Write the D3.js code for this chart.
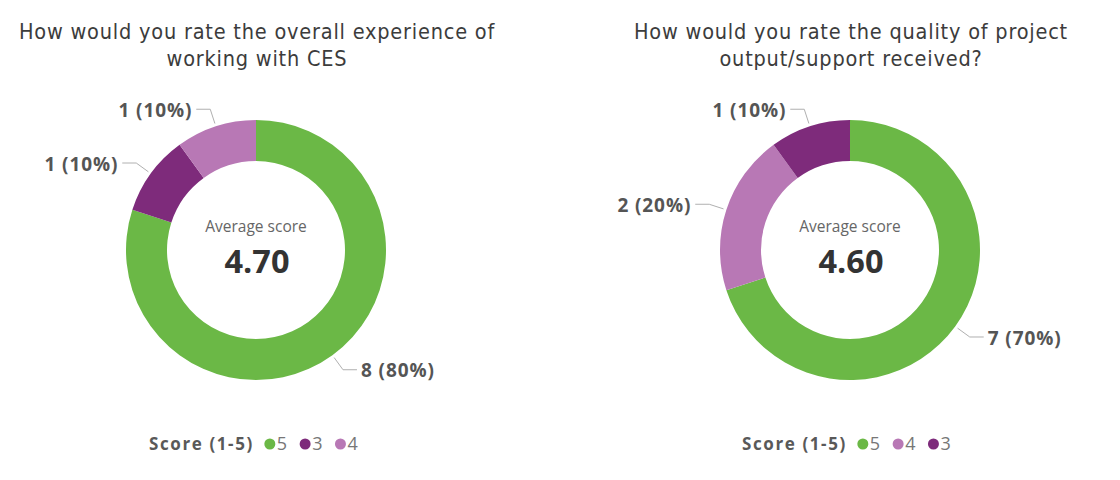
<!DOCTYPE html>
<html>
<head>
<meta charset="utf-8">
<script src="https://cdn.jsdelivr.net/npm/d3@7"></script>
<style>
  html, body { margin: 0; padding: 0; background: #ffffff; }
  svg { display: block; }
</style>
</head>
<body>
<svg id="chart" width="1120" height="480"></svg>
<script>
// ---- data ----
const chartTitles = [
  ["How would you rate the overall experience of", "working with CES"],
  ["How would you rate the quality of project", "output/support received?"]
];
const leftScores = ["5", "3", "4"];
const leftCounts = [8, 1, 1];
const rightScores = ["5", "4", "3"];
const rightCounts = [7, 2, 1];
const averageScores = [4.70, 4.60];
const legendTitle = "Score (1-5)";
const centerCaption = "Average score";

const scoreColor = d3.scaleOrdinal()
  .domain(["5", "4", "3"])
  .range(["#6bb846", "#b878b5", "#7e2b7b"]);

const svg = d3.select("#chart");

const panels = [
  { cx: 256, cy: 250, titles: chartTitles[0], scores: leftScores, counts: leftCounts, avg: averageScores[0], legendX: 149 },
  { cx: 850, cy: 250, titles: chartTitles[1], scores: rightScores, counts: rightCounts, avg: averageScores[1], legendX: 742 }
];

const outerR = 130, innerR = 89;
const titleFont = "'DejaVu Sans Condensed', 'DejaVu Sans', sans-serif";
const bodyFont = "'Open Sans', 'Noto Sans', sans-serif";

panels.forEach(p => {
  const g = svg.append("g");
  // title
  p.titles.forEach((t, i) => {
    g.append("text")
      .attr("x", p.cx + 1)
      .attr("y", 39 + i * 27)
      .attr("text-anchor", "middle")
      .attr("font-family", titleFont)
      .attr("font-size", 21.5)
      .attr("letter-spacing", 0.8)
      .attr("fill", "#3c3c3c")
      .text(t);
  });

  const data = p.scores.map((s, i) => ({ score: s, count: p.counts[i] }));
  const total = d3.sum(p.counts);
  const pie = d3.pie().value(d => d.count).sort(null);
  const arcs = pie(data);
  const arc = d3.arc().innerRadius(innerR).outerRadius(outerR);

  const dg = g.append("g").attr("transform", `translate(${p.cx},${p.cy})`);
  dg.selectAll("path.slice")
    .data(arcs)
    .join("path")
    .attr("class", "slice")
    .attr("d", arc)
    .attr("fill", d => scoreColor(d.data.score));

  // leader lines + labels
  const a1 = d3.arc().innerRadius(outerR + 3).outerRadius(outerR + 3);
  const a2 = d3.arc().innerRadius(outerR + 18).outerRadius(outerR + 18);
  arcs.forEach(d => {
    const mid = (d.startAngle + d.endAngle) / 2;
    const right = Math.sin(mid) > 0;
    const c1 = a1.centroid(d);
    const c2 = a2.centroid(d);
    const c3 = [c2[0] + (right ? 14 : -14), c2[1]];
    dg.append("polyline")
      .attr("points", [c1, c2, c3].map(q => q.join(",")).join(" "))
      .attr("fill", "none")
      .attr("stroke", "#b0b0b0")
      .attr("stroke-width", 1);
    const pct = Math.round(d.data.count / total * 100);
    dg.append("text")
      .attr("x", c3[0] + (right ? 4 : -4))
      .attr("y", c3[1] + 1)
      .attr("dy", "0.35em")
      .attr("text-anchor", right ? "start" : "end")
      .attr("font-family", bodyFont)
      .attr("font-weight", 700)
      .attr("font-size", 19)
      .attr("letter-spacing", 0.9)
      .attr("fill", "#555555")
      .text(`${d.data.count} (${pct}%)`);
  });

  // center
  dg.append("text")
    .attr("y", -23)
    .attr("text-anchor", "middle")
    .attr("dy", "0.35em")
    .attr("font-family", bodyFont)
    .attr("font-size", 15.5)
    .attr("fill", "#666666")
    .text(centerCaption);
  dg.append("text")
    .attr("x", 1)
    .attr("y", 12)
    .attr("text-anchor", "middle")
    .attr("dy", "0.35em")
    .attr("font-family", bodyFont)
    .attr("font-weight", 700)
    .attr("font-size", 32.5)
    .attr("fill", "#333333")
    .text(d3.format(".2f")(p.avg));

  // legend
  const lg = g.append("g").attr("transform", `translate(${p.legendX},444)`);
  const lt = lg.append("text")
    .attr("x", 0).attr("y", 0).attr("dy", "0.35em")
    .attr("font-family", bodyFont)
    .attr("font-weight", 700)
    .attr("font-size", 17)
    .attr("letter-spacing", 1.6)
    .attr("fill", "#595959")
    .text(legendTitle);
  let x = lt.node().getComputedTextLength() + 11;
  p.scores.forEach(s => {
    lg.append("circle").attr("cx", x + 5).attr("cy", 0).attr("r", 5.5).attr("fill", scoreColor(s));
    const t = lg.append("text")
      .attr("x", x + 12).attr("y", 0).attr("dy", "0.35em")
      .attr("font-family", bodyFont)
      .attr("font-size", 18)
      .attr("fill", "#777777")
      .text(s);
    x += 12 + t.node().getComputedTextLength() + 13;
  });
});
</script>
</body>
</html>
